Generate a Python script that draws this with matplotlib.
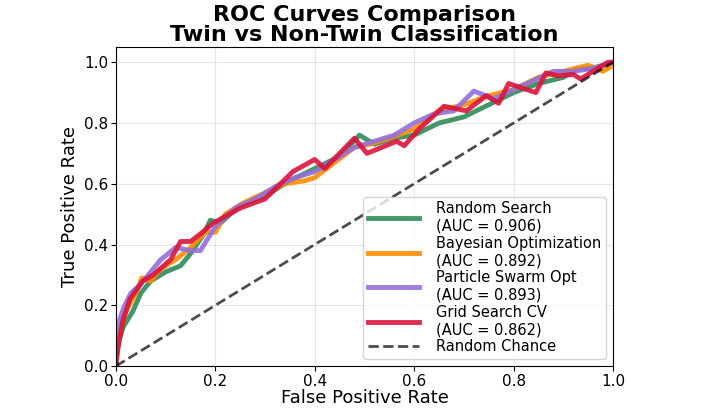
import numpy as np
import matplotlib.pyplot as plt

# ROC curves
fpr_random = [0.0, 0.005, 0.015, 0.034, 0.05, 0.07, 0.1, 0.13, 0.15, 0.175, 0.19, 0.21, 0.25, 0.3, 0.35, 0.4,
              0.45, 0.49, 0.52, 0.56, 0.6, 0.65, 0.7, 0.75, 0.8, 0.85, 0.9, 0.93, 0.96, 1.0]
tpr_random = [0.0, 0.08, 0.13, 0.18, 0.24, 0.28, 0.31, 0.33, 0.37, 0.43, 0.48, 0.47, 0.53, 0.56, 0.61, 0.65,
              0.69, 0.76, 0.73, 0.75, 0.76, 0.8, 0.82, 0.86, 0.9, 0.93, 0.95, 0.98, 0.98, 1.0]

fpr_bayes = [0.0, 0.005, 0.02, 0.04, 0.052, 0.07, 0.09, 0.12, 0.15, 0.18, 0.2, 0.22, 0.26, 0.3, 0.34, 0.38,
             0.4, 0.44, 0.48, 0.51, 0.55, 0.6, 0.65, 0.7, 0.75, 0.8, 0.85, 0.9, 0.95, 0.98, 1.0]
tpr_bayes = [0.0, 0.1, 0.18, 0.24, 0.29, 0.28, 0.32, 0.35, 0.39, 0.44, 0.44, 0.5, 0.54, 0.57, 0.6, 0.61,
             0.62, 0.67, 0.72, 0.73, 0.75, 0.78, 0.84, 0.86, 0.89, 0.91, 0.95, 0.97, 0.99, 0.97, 0.99]

fpr_pso = [0.0, 0.003, 0.015, 0.03, 0.05, 0.07, 0.09, 0.12, 0.15, 0.17, 0.2, 0.24, 0.28, 0.32, 0.36, 0.4,
           0.44, 0.48, 0.52, 0.56, 0.6, 0.64, 0.68, 0.72, 0.76, 0.8, 0.84, 0.88, 0.92, 0.96, 1.0]
tpr_pso = [0.0, 0.13, 0.19, 0.24, 0.27, 0.31, 0.35, 0.39, 0.38, 0.38, 0.46, 0.52, 0.55, 0.59, 0.62, 0.64,
           0.68, 0.72, 0.74, 0.76, 0.8, 0.83, 0.84, 0.905, 0.88, 0.91, 0.94, 0.97, 0.97, 0.98, 1.0]

fpr_grid = [0.0, 0.002, 0.014, 0.028, 0.054, 0.075, 0.11, 0.13, 0.15, 0.17, 0.195, 0.25, 0.3, 0.356, 0.4,
            0.42, 0.48, 0.505, 0.565, 0.58, 0.61, 0.66, 0.705, 0.745, 0.77, 0.79, 0.845, 0.865, 0.89, 0.92,
            0.935, 0.99, 1.0]
tpr_grid = [0.0, 0.04, 0.15, 0.22, 0.28, 0.3, 0.35, 0.41, 0.41, 0.435, 0.47, 0.52, 0.55, 0.64, 0.68,
            0.65, 0.75, 0.7, 0.74, 0.725, 0.78, 0.855, 0.84, 0.89, 0.865, 0.93, 0.9, 0.965, 0.955, 0.96,
            0.945, 1.0, 1.0]

labels = ["Random Search\n(AUC = 0.906)", "Bayesian Optimization\n(AUC = 0.892)",
          "Particle Swarm Opt\n(AUC = 0.893)", "Grid Search CV\n(AUC = 0.862)"]
colors = ["#2E8B57", "#FF8C00", "#9370DB", "#DC143C"]

curves = [(fpr_random, tpr_random), (fpr_bayes, tpr_bayes), (fpr_pso, tpr_pso), (fpr_grid, tpr_grid)]

fig = plt.figure(figsize=(7.07, 4.09), dpi=100)
ax = fig.add_axes([0.164, 0.105, 0.703, 0.78])

for (fpr, tpr), label, color in zip(curves, labels, colors):
    ax.plot(fpr, tpr, color=color, lw=3.5, alpha=0.9, label=label)

ax.plot([0, 1], [0, 1], "k--", lw=2, alpha=0.7, label="Random Chance")

ax.set_xlim(0, 1)
ax.set_ylim(0, 1.05)
ax.set_xticks(np.arange(0, 1.01, 0.2))
ax.set_yticks(np.arange(0, 1.01, 0.2))
ax.tick_params(labelsize=11, pad=2)
ax.grid(True, alpha=0.3)
ax.set_xlabel("False Positive Rate", fontsize=13, labelpad=0)
ax.set_ylabel("True Positive Rate", fontsize=13)
ax.set_title("ROC Curves Comparison\nTwin vs Non-Twin Classification",
             fontsize=16, fontweight="bold", linespacing=1.0, pad=4)
ax.legend(loc="lower right", fontsize=10.5, labelspacing=0.15, handlelength=3.5,
          handletextpad=1.2, borderpad=0.3)

fig.savefig("out.png", dpi=100)
